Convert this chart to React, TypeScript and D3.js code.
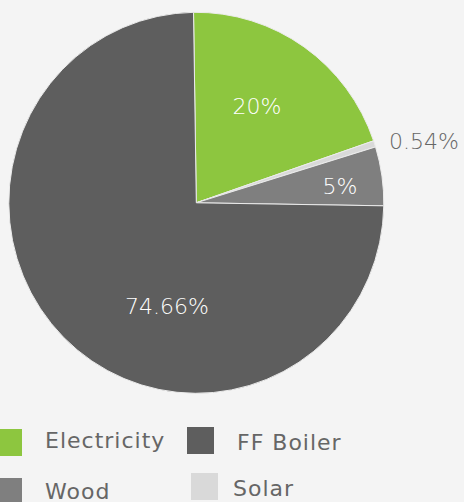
import React from "react";
import * as d3 from "d3";

const categories = ["Electricity", "Solar", "Wood", "FF Boiler"];
const values = [20, 0.54, 5, 74.66];
const labels = ["20%", "0.54%", "5%", "74.66%"];
const colors = ["#8dc63f", "#d9d9d9", "#7f7f7f", "#5e5e5e"];

// label placement (layout): [x, baseline y, anchor, fill]
const labelPos: [number, number, string, string][] = [
  [257, 114, "middle", "#ffffff"],
  [389, 149, "start", "#666666"],
  [340, 194, "middle", "#ffffff"],
  [167, 314, "middle", "#ffffff"],
];

// legend layout: [squareX, squareY, textX, baseline]
const legendOrder = ["Electricity", "FF Boiler", "Wood", "Solar"];
const legendPos: [number, number, number, number][] = [
  [-5, 429, 45, 448],
  [187, 427, 237, 450],
  [-5, 478, 45, 499],
  [191, 473, 233, 496],
];

const W = 464;
const H = 502;
const cx = 196.3;
const cy = 202.8;
const R = 190.5;
const sx = 187.5 / 190.5;
const start = (-0.85 * Math.PI) / 180;

export default function App() {
  const pie = d3
    .pie<number>()
    .sort(null)
    .startAngle(start)
    .endAngle(start + 2 * Math.PI);
  const arcs = pie(values);
  const arc = d3.arc<d3.PieArcDatum<number>>().innerRadius(0).outerRadius(R);
  const font = "'DejaVu Sans', sans-serif";
  return (
    <svg
      width={W}
      height={H}
      style={{ position: "fixed", left: 0, top: 0, background: "#f4f4f4" }}
    >
      <rect width={W} height={H} fill="#f4f4f4" />
      <g transform={`translate(${cx},${cy}) scale(${sx},1)`}>
        {arcs.map((a, i) => (
          <path
            key={categories[i]}
            d={arc(a) || ""}
            fill={colors[i]}
            stroke="#ececec"
            strokeWidth={1}
          />
        ))}
      </g>
      {labels.map((t, i) => (
        <text
          key={t}
          x={labelPos[i][0]}
          y={labelPos[i][1]}
          textAnchor={labelPos[i][2] as any}
          fill={labelPos[i][3]}
          fontFamily={font}
          fontSize={22}
          fontWeight={300}
        >
          {t}
        </text>
      ))}
      {legendOrder.map((name, i) => {
        const idx = categories.indexOf(name);
        const p = legendPos[i];
        return (
          <g key={name}>
            <rect x={p[0]} y={p[1]} width={27} height={27} fill={colors[idx]} />
            <text
              x={p[2]}
              y={p[3]}
              fill="#666666"
              fontFamily={font}
              fontSize={22}
              letterSpacing={1}
            >
              {name}
            </text>
          </g>
        );
      })}
    </svg>
  );
}
